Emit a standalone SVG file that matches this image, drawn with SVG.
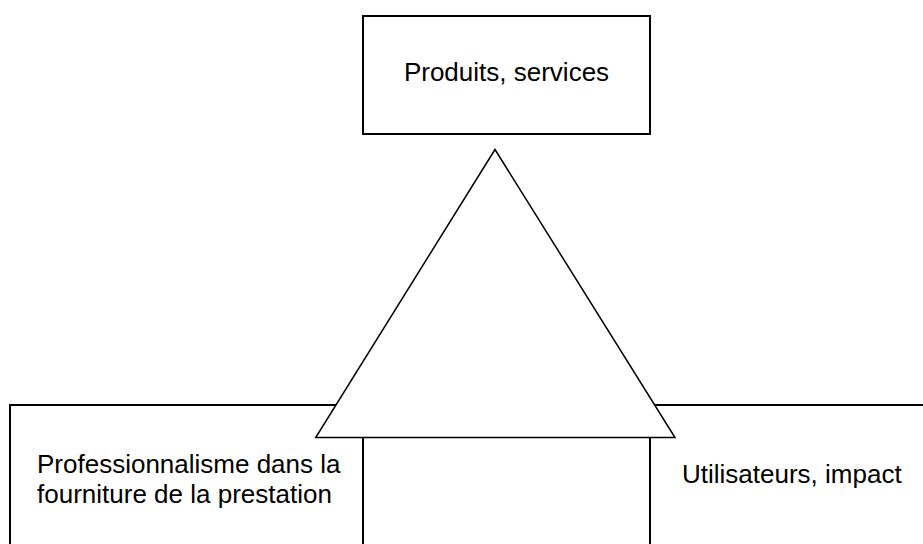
<svg xmlns="http://www.w3.org/2000/svg" width="923" height="544" viewBox="0 0 923 544">
<style>
.box{fill:#fff;stroke:#000;stroke-width:2}
.tri{fill:#fff;stroke:#000;stroke-width:1.5;stroke-linejoin:miter}
text{font-family:"Liberation Sans",Arial,sans-serif;font-size:26px;fill:#000}
</style>
<rect width="923" height="544" fill="#fff"/>
<g id="produits">
<rect class="box" x="363" y="16" width="287" height="118"/>
<text x="506.5" y="81" text-anchor="middle">Produits, services</text>
</g>
<g id="professionnalisme">
<rect class="box" x="10" y="405" width="353" height="160"/>
<text x="37" y="473">Professionnalisme dans la</text>
<text x="37" y="503">fourniture de la prestation</text>
</g>
<g id="utilisateurs">
<rect class="box" x="650" y="405" width="300" height="160"/>
<text x="682" y="483">Utilisateurs, impact</text>
</g>
<g id="triangle">
<polygon class="tri" points="495,149.5 315.7,437.5 675,437.5"/>
</g>
<g id="connectors"></g>
</svg>
